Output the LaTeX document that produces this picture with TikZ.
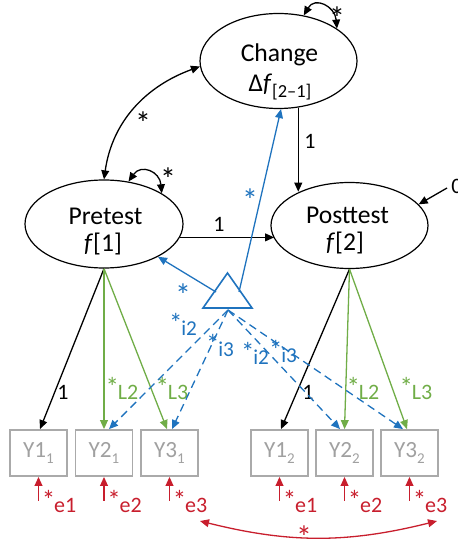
\documentclass[tikz,border=0pt]{standalone}
\usepackage{fontspec}
\setmainfont{Carlito}
\usetikzlibrary{shapes.geometric,arrows.meta,calc}

\definecolor{semblue}{RGB}{31,115,190}
\definecolor{semgreen}{RGB}{112,173,71}
\definecolor{semred}{RGB}{200,30,45}
\definecolor{boxgray}{RGB}{170,170,170}
\definecolor{txtgray}{RGB}{160,160,160}

\newcommand\mysub[1]{\raisebox{-2.8pt}{\fontsize{7.5}{8}\selectfont #1}}
\newcommand\mysubbig[1]{\raisebox{-2.6pt}{\fontsize{9.2}{10}\selectfont #1}}
\newcommand\lstar{\smash{\raisebox{1.5pt}{\fontsize{13.5}{14}\selectfont *}}\kern-0.6pt}

\tikzset{
  tip/.tip={Triangle[length=4.5pt,width=3.9pt]},
  arr/.style={-tip, line width=0.65pt},
  darr/.style={tip-tip, line width=0.65pt},
  dashline/.style={-tip, line width=0.65pt, dash pattern=on 4pt off 2.5pt},
  latent/.style={ellipse, draw, line width=0.6pt, inner sep=0pt},
  obs/.style={rectangle, draw=boxgray, line width=0.9pt, minimum width=28.5pt,
    minimum height=23pt, inner sep=0pt, text=txtgray, font=\fontsize{11.6}{12}\selectfont},
  lattext/.style={font=\fontsize{12.8}{14}\selectfont, anchor=base, inner sep=0pt},
  lbl/.style={font=\fontsize{11}{12}\selectfont, inner sep=0pt},
  ilbl/.style={font=\fontsize{10.6}{12}\selectfont, inner sep=0pt, text=semblue},
  star/.style={font=\fontsize{16}{16}\selectfont, inner sep=0pt},
}

\begin{document}
\begin{tikzpicture}[x=0.5pt,y=0.5pt]
\useasboundingbox (0,0) rectangle (457,-539);

% latent variables
\node[latent, minimum width=78.5pt, minimum height=47.5pt] (change) at (278.5,-61) {};
\node[latent, minimum width=79pt, minimum height=44pt] (pre) at (104,-224) {};
\node[latent, minimum width=78.5pt, minimum height=43pt] (post) at (349.5,-225.5) {};

\node[lattext] (chgA) at (279.5,-62) {Change};
\node[lattext] (chgB) at (280,-92) {Δ\textit{f}\mysubbig{[2–1]}};
\node[lattext] (preA) at (105.5,-225) {Pretest};
\node[lattext] (preB) at (103,-251) {\textit{f}[1]};
\node[lattext] (postA) at (347.5,-224) {Posttest};
\node[lattext] (postB) at (345,-250) {\textit{f}[2]};

% observed variables
\node[obs] (y11) at (38.5,-453) {Y1\mysub{1}};
\node[obs] (y21) at (104,-453) {Y2\mysub{1}};
\node[obs] (y31) at (169.5,-453) {Y3\mysub{1}};
\node[obs] (y12) at (279.5,-453) {Y1\mysub{2}};
\node[obs] (y22) at (344.5,-453) {Y2\mysub{2}};
\node[obs] (y32) at (409.5,-453) {Y3\mysub{2}};

% mean triangle
\coordinate (ta) at (227.5,-273);
\coordinate (tl) at (203,-308);
\coordinate (tr) at (252,-308);
\coordinate (mL) at (216,-292);
\coordinate (mR) at (239,-292);
\coordinate (mB) at (228,-310);
\draw[semblue, line width=0.8pt, line join=miter] (ta) -- (tl) -- (tr) -- cycle;

% structural paths
\draw[arr] (pre.-10) -- (pre.-10 -| post.190);
\node[lbl] (l1a) at (219,-224) {1};
\draw[arr] (change.-67) -- (change.-67 |- post.146);
\node[lbl] (l1b) at (310,-141) {1};
\coordinate (zerostart) at (447,-188);
\node[lbl, anchor=west] (zero) at (451,-186) {0};
\draw[arr] (zerostart) -- (post.17);

% covariances
\draw[darr] (pre.north) to[out=82, in=200] (change.184);
\node[star] (s1) at (143,-123) {*};
\draw[darr] (pre.60) to[out=55, in=95, looseness=1.6] (pre.28);
\node[star] (s2) at (168,-179) {*};
\draw[darr] (change.61) to[out=60, in=95, looseness=1.6] (change.29);
\node[star] (s3) at (337,-18) {*};

% mean paths
\draw[arr, semblue] (mL) -- (pre);
\node[star, text=semblue] (s4) at (183,-295) {*};
\draw[arr, semblue] (mR) -- (change.-87);
\node[star, text=semblue] (s5) at (250,-200) {*};

% loadings pretest
\draw[arr] (pre.south) -- ($(y11.north)+(1.5,0)$);
\draw[arr, semgreen] (pre.south) -- (y21.north);
\draw[arr, semgreen] (pre.south) -- ($(y31.north)+(-2.5,0)$);
\node[lbl] (p1) at (63,-392) {1};
\node[lbl, text=semgreen] (pL2) at (122,-392) {\lstar L2};
\node[lbl, text=semgreen] (pL3) at (172,-392) {\lstar L3};

% loadings posttest
\draw[arr] (post.south) -- ($(y12.north)+(1.5,0)$);
\draw[arr, semgreen] (post.south) -- (y22.north);
\draw[arr, semgreen] (post.south) -- ($(y32.north)+(-2.5,0)$);
\node[lbl] (q1) at (308,-392) {1};
\node[lbl, text=semgreen] (qL2) at (363,-392) {\lstar L2};
\node[lbl, text=semgreen] (qL3) at (416,-392) {\lstar L3};

% intercepts
\draw[dashline, semblue] (mB) -- ($(y21.north)+(5,0)$);
\draw[dashline, semblue] (mB) -- ($(y31.north)+(2.5,0)$);
\draw[dashline, semblue] (mB) -- ($(y22.north)+(-4.5,0)$);
\draw[dashline, semblue] (mB) -- ($(y32.north)+(-6.5,0)$);
\node[ilbl] (i2a) at (183,-328) {\lstar i2};
\node[ilbl] (i3a) at (220,-349) {\lstar i3};
\node[ilbl] (i2b) at (255,-357) {\lstar i2};
\node[ilbl] (i3b) at (283,-355) {\lstar i3};

% residuals
\foreach \b/\e in {y11/e1, y21/e2, y31/e3, y12/e1, y22/e2, y32/e3} {
  \coordinate (\b err) at ($(\b.south)+(0,-24)$);
  \draw[arr, semred] (\b err) -- (\b.south);
  \node[lbl, text=semred, anchor=west] (\b lab) at ($(\b err)+(3,-5)$) {\lstar\e};
}

% residual covariance
\coordinate (c1) at (200,-521);
\coordinate (c2) at (437,-521);
\draw[darr, semred] (c1) to[out=-14, in=194] (c2);
\node[star, text=semred] (s6) at (304,-537) {*};
\end{tikzpicture}
\end{document}
